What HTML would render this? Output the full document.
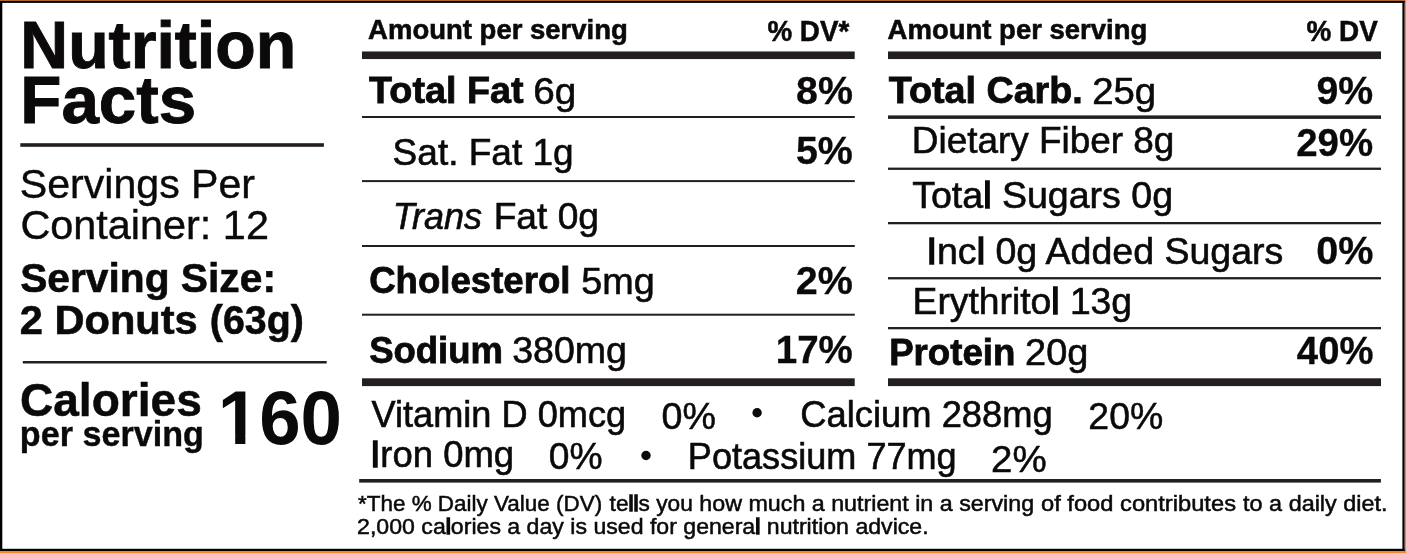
<!DOCTYPE html>
<html lang="en">
<head>
<meta charset="utf-8">
<title>Nutrition Facts</title>
<style>
html,body{margin:0;padding:0;background:#fff;}
body{width:1406px;height:553px;overflow:hidden;position:relative;}
svg{position:absolute;left:0;top:0;display:block;will-change:transform;}
text{font-family:"Liberation Sans", Arial, Helvetica, sans-serif;fill:#0b090a;stroke:#0b090a;stroke-linejoin:miter;white-space:pre;}
.b{font-weight:bold;}
.i{font-style:italic;}
.h{stroke-width:1.5px;}
.rule{fill:#231f20;}
</style>
</head>
<body>
<svg width="1406" height="553" viewBox="0 0 1406 553">
<g id="frame">
<rect x="0" y="0" width="1406" height="553" fill="#fff"/>
<rect x="0" y="0" width="1406" height="1" fill="#aa6632"/>
<rect x="1404.6" y="0" width="1.4" height="553" fill="#f98620"/>
<rect x="0" y="551" width="1406" height="2" fill="#f98620"/>
<rect x="0" y="1" width="1404.6" height="1.9" fill="#000"/>
<rect x="0" y="548.8" width="1404.6" height="2.2" fill="#000"/>
<rect x="0" y="1" width="2.3" height="550" fill="#000"/>
<rect x="1402.4" y="1" width="2.2" height="550" fill="#000"/>
</g>
<g id="rules">
<rect class="rule" x="20.3" y="143.2" width="303.6" height="3.6"/>
<rect class="rule" x="22.8" y="361.0" width="303.9" height="2.5"/>
<rect class="rule" x="362.0" y="51.45" width="492.7" height="7.6"/>
<rect class="rule" x="362.0" y="116.0" width="492.8" height="2.0"/>
<rect class="rule" x="362.0" y="180.1" width="492.8" height="2.0"/>
<rect class="rule" x="362.0" y="245.0" width="492.8" height="2.0"/>
<rect class="rule" x="362.0" y="313.7" width="492.8" height="2.0"/>
<rect class="rule" x="362.0" y="378.3" width="492.7" height="7.8"/>
<rect class="rule" x="888.0" y="51.45" width="493.0" height="7.6"/>
<rect class="rule" x="888.0" y="115.4" width="493.0" height="3.5"/>
<rect class="rule" x="888.0" y="167.6" width="493.0" height="2.3"/>
<rect class="rule" x="888.0" y="222.0" width="493.0" height="2.3"/>
<rect class="rule" x="888.0" y="277.1" width="493.0" height="2.3"/>
<rect class="rule" x="888.0" y="327.0" width="493.0" height="2.3"/>
<rect class="rule" x="888.0" y="378.3" width="493.0" height="7.8"/>
<rect class="rule" x="359.2" y="479.0" width="1021.7" height="3.6"/>
<circle cx="757.1" cy="412.8" r="4.7" fill="#0b090a"/>
<circle cx="646.0" cy="455.5" r="4.7" fill="#0b090a"/>
</g>
<g id="text">
<text class="b" font-size="65.9" stroke-width="0.9" transform="translate(20.32 67.75) scale(1.0051 1)">Nutrition</text>
<text class="b" font-size="65.9" stroke-width="0.9" transform="translate(20.26 123.30) scale(1.0215 1)">Facts</text>
<text font-size="40.4" stroke-width="0.4" transform="translate(19.84 198.10) scale(1.0172 1)">Servings Per</text>
<text font-size="40.4" stroke-width="0.4" transform="translate(20.40 239.40) scale(1.0250 1)">Container: 12</text>
<text class="b" font-size="40.4" stroke-width="0.6" transform="translate(20.13 292.30) scale(1.0086 1)">Serving Size:</text>
<text class="b" font-size="40.4" stroke-width="0.6" transform="translate(19.67 334.20) scale(1.0305 1)">2 Donuts</text>
<text class="b" font-size="41.4" stroke-width="0.6" transform="translate(209.82 334.20) scale(0.9511 1)">(63g)</text>
<text class="b" font-size="45.8" stroke-width="0.5" transform="translate(19.96 416.20) scale(1.0064 1)">Calories</text>
<text class="b" font-size="34.8" stroke-width="0.4" transform="translate(19.85 445.85) scale(0.9811 1)">per serving</text>
<text class="b" font-size="76.0" stroke-width="0.0" transform="translate(217.71 443.70) scale(0.9807 1)">160</text>
<text class="b" font-size="28.3" stroke-width="0.6" transform="translate(368.11 38.80) scale(0.9721 1)">Amount per serving</text>
<text class="b" font-size="28.6" stroke-width="0.5" transform="translate(767.45 40.75) scale(0.9717 1)">% DV*</text>
<text class="b" font-size="36.8" stroke-width="0.8" transform="translate(369.09 103.30) scale(1.0259 1)">Total Fat</text>
<text font-size="36.5" stroke-width="0.6" transform="translate(533.25 103.55) scale(1.0601 1)">6g</text>
<text class="b" font-size="37.9" stroke-width="0.3" transform="translate(796.11 103.55) scale(1.0386 1)">8%</text>
<text font-size="36.5" stroke-width="0.6" transform="translate(392.62 164.65) scale(1.0142 1)">Sat. Fat 1g</text>
<text class="b" font-size="37.9" stroke-width="0.3" transform="translate(795.94 164.00) scale(1.0398 1)">5%</text>
<text class="i" font-size="36.5" stroke-width="0.6" transform="translate(392.66 228.95) scale(0.9881 1)">Trans</text>
<text font-size="36.5" stroke-width="0.6" transform="translate(493.66 228.95) scale(1.0183 1)">Fat 0g</text>
<text class="b" font-size="36.8" stroke-width="0.8" transform="translate(369.20 293.35) scale(0.9946 1)">Cholesterol</text>
<text font-size="36.5" stroke-width="0.6" transform="translate(581.30 293.75) scale(1.0344 1)">5mg</text>
<text class="b" font-size="37.9" stroke-width="0.3" transform="translate(795.79 293.60) scale(1.0424 1)">2%</text>
<text class="b" font-size="36.8" stroke-width="0.8" transform="translate(369.14 362.65) scale(0.9927 1)">Sodium</text>
<text font-size="36.5" stroke-width="0.6" transform="translate(512.18 363.05) scale(1.0284 1)">380mg</text>
<text class="b" font-size="37.9" stroke-width="0.3" transform="translate(775.72 362.90) scale(1.0171 1)">17%</text>
<text class="b" font-size="28.3" stroke-width="0.6" transform="translate(887.61 38.80) scale(0.9721 1)">Amount per serving</text>
<text class="b" font-size="28.6" stroke-width="0.5" transform="translate(1306.55 40.75) scale(0.9752 1)">% DV</text>
<text class="b" font-size="36.8" stroke-width="0.8" transform="translate(888.69 103.25) scale(1.0246 1)">Total Carb.</text>
<text font-size="36.5" stroke-width="0.6" transform="translate(1092.19 103.55) scale(1.0507 1)">25g</text>
<text class="b" font-size="37.9" stroke-width="0.3" transform="translate(1316.39 103.70) scale(1.0370 1)">9%</text>
<text font-size="36.5" stroke-width="0.6" transform="translate(911.77 152.65) scale(1.0119 1)">Dietary Fiber 8g</text>
<text class="b" font-size="37.9" stroke-width="0.3" transform="translate(1296.22 155.70) scale(1.0148 1)">29%</text>
<text font-size="36.5" stroke-width="0.6" transform="translate(912.16 207.85) scale(1.0292 1)">Tota<tspan class="h">l</tspan> Sugars 0g</text>
<text font-size="36.5" stroke-width="0.6" transform="translate(926.54 263.55) scale(1.0283 1)"><tspan class="h">I</tspan>nc<tspan class="h">l</tspan> 0g Added Sugars</text>
<text class="b" font-size="37.9" stroke-width="0.3" transform="translate(1316.29 263.70) scale(1.0440 1)">0%</text>
<text font-size="36.5" stroke-width="0.6" transform="translate(912.55 313.85) scale(1.0210 1)">Erythrito<tspan class="h">l</tspan> 13g</text>
<text class="b" font-size="36.8" stroke-width="0.8" transform="translate(889.15 364.95) scale(0.9957 1)">Protein</text>
<text font-size="36.5" stroke-width="0.6" transform="translate(1025.10 365.35) scale(1.0387 1)">20g</text>
<text class="b" font-size="37.9" stroke-width="0.3" transform="translate(1296.87 364.20) scale(1.0098 1)">40%</text>
<text font-size="36.5" stroke-width="0.6" transform="translate(371.54 426.75) scale(0.9909 1)">Vitamin D 0mcg</text>
<text font-size="37.6" stroke-width="0.5" transform="translate(661.48 428.75) scale(1.0013 1)">0%</text>
<text font-size="36.5" stroke-width="0.6" transform="translate(800.35 426.75) scale(0.9955 1)">Calcium 288mg</text>
<text font-size="37.6" stroke-width="0.5" transform="translate(1088.37 428.75) scale(0.9957 1)">20%</text>
<text font-size="36.5" stroke-width="0.6" transform="translate(370.24 466.95) scale(0.9983 1)"><tspan class="h">I</tspan>ron 0mg</text>
<text font-size="37.6" stroke-width="0.5" transform="translate(548.79 468.65) scale(0.9898 1)">0%</text>
<text font-size="36.5" stroke-width="0.6" transform="translate(687.84 468.95) scale(0.9892 1)">Potassium 77mg</text>
<text font-size="37.6" stroke-width="0.5" transform="translate(991.02 471.95) scale(1.0234 1)">2%</text>
<text font-size="21.9" stroke-width="0.5" transform="translate(357.99 510.60) scale(1.0256 1)">*The % Daily Value (DV)</text>
<text font-size="21.9" stroke-width="0.5" transform="translate(609.62 510.60) scale(1.0359 1)">te<tspan class="h">ll</tspan>s you</text>
<text font-size="21.9" stroke-width="0.5" transform="translate(699.35 510.60) scale(1.0625 1)">how much a nutrient in a serving</text>
<text font-size="21.9" stroke-width="0.5" transform="translate(1040.97 510.60) scale(1.0829 1)">of food contributes</text>
<text font-size="21.9" stroke-width="0.5" transform="translate(1243.11 510.60) scale(1.0683 1)">to a daily diet.</text>
<text font-size="21.9" stroke-width="0.5" transform="translate(357.10 533.60) scale(1.0557 1)">2,000 ca<tspan class="h">l</tspan>ories a day is used for genera<tspan class="h">l</tspan> nutrition advice.</text>
</g>
<g id="masks" fill="#fff">
<rect x="221" y="435.5" width="14.19" height="10"/>
<rect x="245.36" y="435.5" width="13" height="10"/>
</g>
</svg>
</body>
</html>
